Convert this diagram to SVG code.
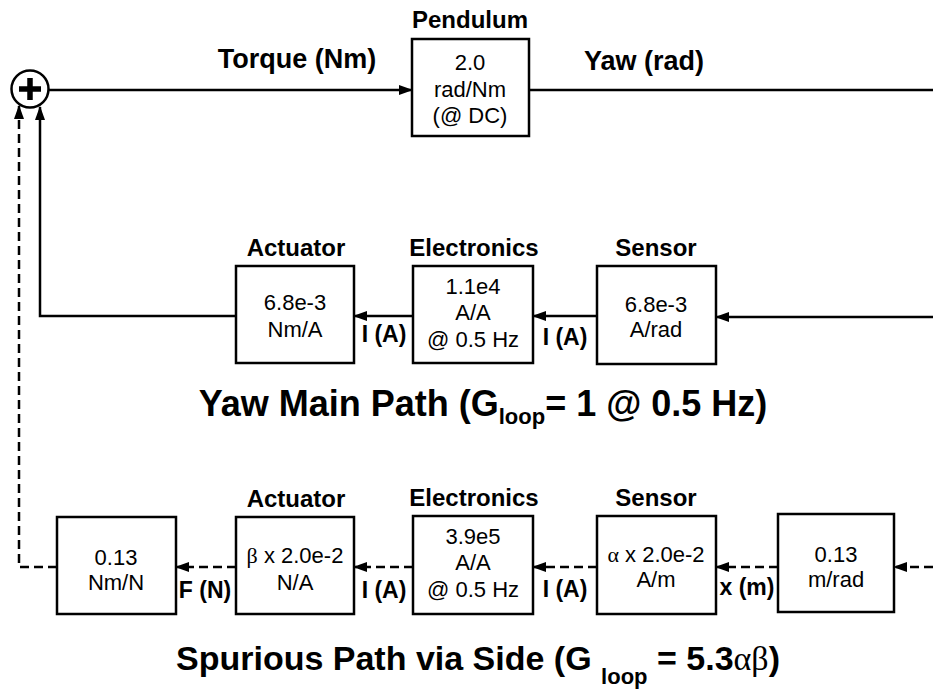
<svg xmlns="http://www.w3.org/2000/svg" width="933" height="691" viewBox="0 0 933 691">
<defs>
<marker id="ah" markerWidth="14" markerHeight="10" refX="13" refY="5" orient="auto" markerUnits="userSpaceOnUse">
<path d="M0,0 L14,5 L0,10 Z" fill="#000"/>
</marker>
<style>
text{font-family:"Liberation Sans",Arial,sans-serif;fill:#000}
.lbl{font-size:24px;font-weight:bold;text-anchor:middle}
.sig{font-size:23px;font-weight:bold;text-anchor:middle}
.big{font-size:27px;font-weight:bold;text-anchor:middle}
.val{font-size:22px;text-anchor:middle}
.title{font-size:36px;font-weight:bold;text-anchor:middle}
.title2{font-size:34px;font-weight:bold;text-anchor:middle}
.sub{font-size:22px}
.box{fill:#fff;stroke:#000;stroke-width:2.5}
.ln{fill:none;stroke:#000;stroke-width:2.5}
.dash{fill:none;stroke:#000;stroke-width:2.5;stroke-dasharray:9 5}
.gr{font-family:"Liberation Serif","Times New Roman",serif;font-weight:normal}
</style>
</defs>
<rect width="933" height="691" fill="#fff"/>

<g id="connectors">
<line class="ln" x1="48" y1="90" x2="412" y2="90" marker-end="url(#ah)"/>
<line class="ln" x1="529" y1="90" x2="933" y2="90"/>
<line class="ln" x1="933" y1="317" x2="716" y2="317" marker-end="url(#ah)"/>
<line class="ln" x1="597" y1="316" x2="533" y2="316" marker-end="url(#ah)"/>
<line class="ln" x1="413" y1="316" x2="354" y2="316" marker-end="url(#ah)"/>
<polyline class="ln" points="236,316 40,316 40,107" marker-end="url(#ah)"/>
<line class="dash" x1="933" y1="567" x2="894" y2="567" marker-end="url(#ah)"/>
<line class="dash" x1="778" y1="567" x2="716" y2="567" marker-end="url(#ah)"/>
<line class="dash" x1="597" y1="567" x2="533" y2="567" marker-end="url(#ah)"/>
<line class="dash" x1="413" y1="567" x2="354" y2="567" marker-end="url(#ah)"/>
<line class="dash" x1="236" y1="567" x2="176" y2="567" marker-end="url(#ah)"/>
<polyline class="dash" points="57,567 19,567 19,106" marker-end="url(#ah)"/>
</g>

<g id="sum">
<circle cx="30" cy="89" r="18.5" fill="#fff" stroke="#000" stroke-width="2.5"/>
<path d="M30,78 V100 M19,89 H41" stroke="#000" stroke-width="5.5" fill="none"/>
</g>

<g id="signal-labels">
<text class="big" x="297" y="68">Torque (Nm)</text>
<text class="big" x="644" y="70">Yaw (rad)</text>
<text class="sig" x="384" y="342">I (A)</text>
<text class="sig" x="565" y="345">I (A)</text>
<text class="sig" x="205" y="598">F (N)</text>
<text class="sig" x="384" y="598">I (A)</text>
<text class="sig" x="565" y="597">I (A)</text>
<text class="sig" x="747" y="595">x (m)</text>
</g>

<g id="pendulum">
<text class="lbl" x="470" y="28">Pendulum</text>
<rect class="box" x="412" y="39" width="117" height="97"/>
<text class="val" x="470" y="70">2.0</text>
<text class="val" x="470" y="97">rad/Nm</text>
<text class="val" x="470" y="123">(@ DC)</text>
</g>

<g id="main-actuator">
<text class="lbl" x="296" y="256">Actuator</text>
<rect class="box" x="236" y="266" width="118" height="97"/>
<text class="val" x="295" y="310">6.8e-3</text>
<text class="val" x="295" y="337">Nm/A</text>
</g>

<g id="main-electronics">
<text class="lbl" x="474" y="256">Electronics</text>
<rect class="box" x="413" y="266" width="120" height="97"/>
<text class="val" x="473" y="294">1.1e4</text>
<text class="val" x="473" y="320">A/A</text>
<text class="val" x="473" y="347">@ 0.5 Hz</text>
</g>

<g id="main-sensor">
<text class="lbl" x="656" y="256">Sensor</text>
<rect class="box" x="597" y="266" width="119" height="98"/>
<text class="val" x="656" y="312">6.8e-3</text>
<text class="val" x="656" y="337">A/rad</text>
</g>

<g id="title-main">
<text class="title" x="483" y="416">Yaw Main Path (G<tspan class="sub" dy="8">loop</tspan><tspan dy="-8">= 1 @ 0.5 Hz)</tspan></text>
</g>

<g id="spur-lever">
<rect class="box" x="57" y="517" width="119" height="97"/>
<text class="val" x="116" y="565">0.13</text>
<text class="val" x="116" y="590">Nm/N</text>
</g>

<g id="spur-actuator">
<text class="lbl" x="296" y="507">Actuator</text>
<rect class="box" x="236" y="517" width="118" height="97"/>
<text class="val" x="295" y="563"><tspan class="gr">β</tspan> x 2.0e-2</text>
<text class="val" x="295" y="590">N/A</text>
</g>

<g id="spur-electronics">
<text class="lbl" x="474" y="506">Electronics</text>
<rect class="box" x="413" y="516" width="120" height="98"/>
<text class="val" x="473" y="544">3.9e5</text>
<text class="val" x="473" y="570">A/A</text>
<text class="val" x="473" y="597">@ 0.5 Hz</text>
</g>

<g id="spur-sensor">
<text class="lbl" x="656" y="506">Sensor</text>
<rect class="box" x="597" y="516" width="119" height="98"/>
<text class="val" x="656" y="562"><tspan class="gr">α</tspan> x 2.0e-2</text>
<text class="val" x="656" y="587">A/m</text>
</g>

<g id="spur-side">
<rect class="box" x="778" y="514" width="116" height="98"/>
<text class="val" x="836" y="562">0.13</text>
<text class="val" x="836" y="587">m/rad</text>
</g>

<g id="title-spur">
<text class="title2" x="478" y="670">Spurious Path via Side (G <tspan class="sub" dy="14">loop</tspan><tspan dy="-14"> = 5.3</tspan><tspan class="gr">αβ</tspan>)</text>
</g>
</svg>
